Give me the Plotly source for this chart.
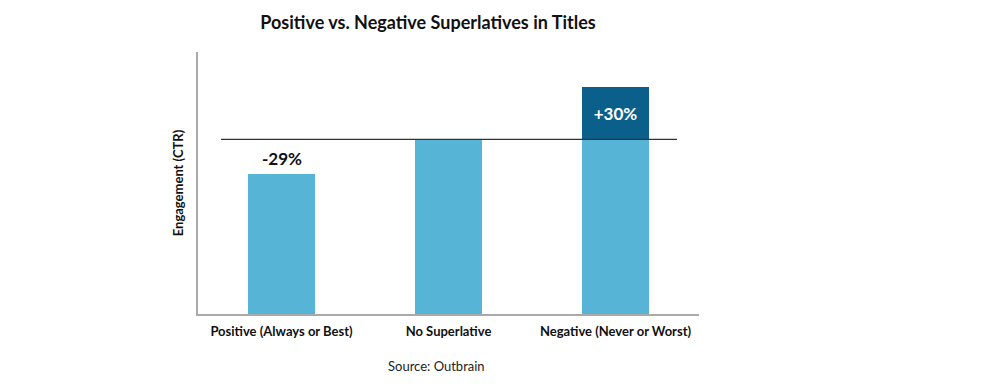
import plotly.graph_objects as go

categories = ["Positive (Always or Best)", "No Superlative", "Negative (Never or Worst)"]
base_values = [80, 100, 100]
extra_values = [0, 0, 30]
labels = ["-29%", "", "+30%"]
baseline = 100

light = "#56B5D7"
dark = "#0B5F8B"
font = "Lato, 'Open Sans', sans-serif"

fig = go.Figure()
fig.add_trace(go.Bar(x=categories, y=base_values, marker=dict(color=light, line=dict(width=0)),
                     width=0.4, hoverinfo="skip"))
fig.add_trace(go.Bar(x=categories, y=extra_values, marker=dict(color=dark, line=dict(width=0)),
                     width=0.4, text=[labels[2] if v > 0 else "" for v in extra_values],
                     textposition="inside", insidetextanchor="middle",
                     textfont=dict(color="white", size=17, family=font, weight="bold"),
                     hoverinfo="skip"))

# label above positive bar
fig.add_annotation(x=categories[0], y=base_values[0], text=labels[0], showarrow=False,
                   yanchor="bottom", yshift=3,
                   font=dict(size=17, color="#111", family=font, weight="bold"))

# baseline reference line
fig.add_shape(type="line", xref="x", yref="y", x0=-0.362, x1=2.368, y0=baseline, y1=baseline,
              line=dict(color="#333", width=1.2))

W, H = 985, 368
fig.update_layout(
    barmode="stack",
    width=W, height=H,
    margin=dict(l=190, r=294, t=44, b=62),
    paper_bgcolor="white", plot_bgcolor="white",
    showlegend=False,
    bargap=0.6,
    title=dict(text="Positive vs. Negative Superlatives in Titles", x=420/W, xanchor="center",
               y=1 - 15/H, yanchor="middle",
               font=dict(size=18, color="#111", family=font, weight="bold")),
    xaxis=dict(showline=True, linecolor="#aaa", linewidth=2, ticks="", showgrid=False,
               ticklabelstandoff=4,
               tickfont=dict(size=13, color="#111", family=font, weight="bold"),
               range=[-0.5, 2.5]),
    yaxis=dict(showline=True, linecolor="#aaa", linewidth=2, ticks="", showgrid=False,
               showticklabels=False, range=[0, 150], zeroline=False,
               title=dict(text="Engagement (CTR)", standoff=9,
                          font=dict(size=13, color="#111", family=font, weight="bold"))),
)

fig.add_annotation(x=(428 - 190) / 501, y=-52/262, xref="paper", yref="paper", text="Source: Outbrain",
                   showarrow=False, yanchor="middle",
                   font=dict(size=13, color="#222", family=font))

fig.write_html("out.html")
